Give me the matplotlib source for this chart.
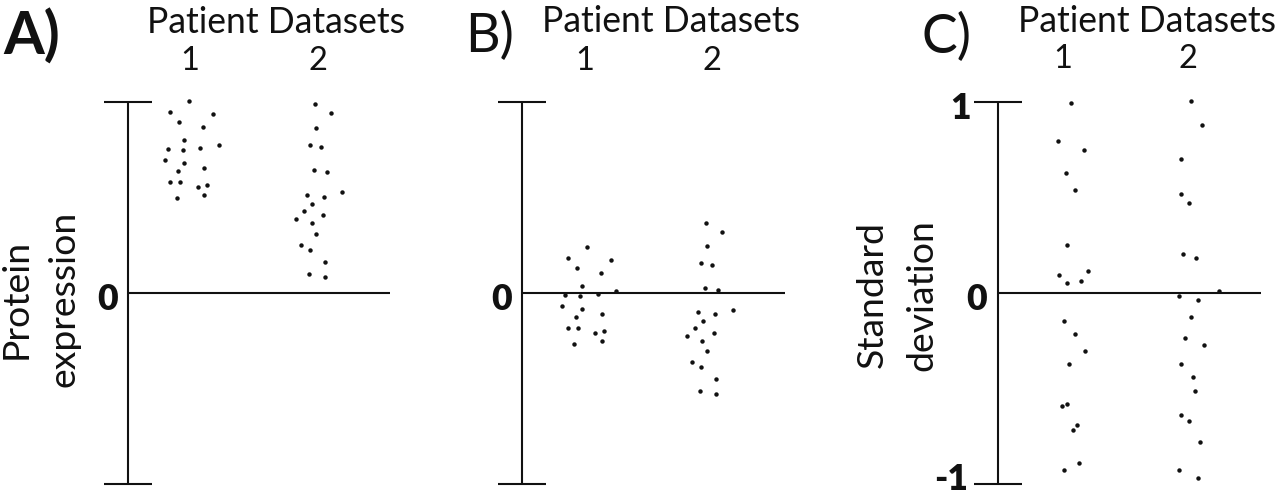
import matplotlib
matplotlib.use("Agg")
import matplotlib.pyplot as plt
from matplotlib.transforms import blended_transform_factory

# ---------------- data ----------------
categories = ["1", "2"]

# Panel A: protein expression
a1_x = [0.995, 0.846, 1.182, 0.916, 1.104, 0.955, 0.830, 0.948, 1.080, 1.224,
        0.807, 0.955, 0.909, 1.112, 0.846, 0.924, 1.060, 1.130, 0.898, 1.112]
a1_y = [1.008, 0.951, 0.940, 0.898, 0.872, 0.803, 0.757, 0.752, 0.762, 0.778,
        0.699, 0.684, 0.642, 0.658, 0.584, 0.584, 0.558, 0.569, 0.501, 0.515]
a2_x = [1.977, 2.104, 1.984, 1.938, 2.023, 1.969, 2.070, 2.188, 1.916, 2.045,
        1.955, 1.888, 1.826, 2.037, 1.951, 1.984, 1.870, 1.938, 2.052, 1.930, 2.052]
a2_y = [0.990, 0.942, 0.867, 0.778, 0.764, 0.644, 0.634, 0.530, 0.515, 0.506,
        0.469, 0.431, 0.391, 0.408, 0.366, 0.310, 0.254, 0.225, 0.165, 0.099, 0.085]

# Panel B: mean-centred expression
b1_x = [1.013, 0.864, 1.202, 0.935, 1.124, 0.974, 0.845, 0.963, 1.100, 1.244,
        0.821, 0.974, 0.927, 1.131, 0.864, 0.943, 1.076, 1.147, 0.916, 1.131]
b1_y = [0.244, 0.185, 0.176, 0.132, 0.108, 0.038, -0.010, -0.016, -0.002, 0.012,
        -0.066, -0.081, -0.123, -0.108, -0.182, -0.182, -0.208, -0.197, -0.265, -0.250]
b2_x = [1.953, 2.081, 1.961, 1.911, 2.000, 1.945, 2.050, 2.165, 1.892, 2.021,
        1.931, 1.864, 1.801, 2.013, 1.924, 1.961, 1.845, 1.913, 2.029, 1.906, 2.029]
b2_y = [0.368, 0.323, 0.248, 0.160, 0.147, 0.026, 0.017, -0.086, -0.099, -0.108,
        -0.147, -0.183, -0.224, -0.206, -0.248, -0.304, -0.358, -0.386, -0.447, -0.513, -0.526]

# Panel C: standard deviation
c1_x = [1.062, 0.960, 1.166, 1.022, 1.096, 1.032, 0.970, 1.198, 1.032, 1.144,
        1.010, 1.094, 1.176, 1.050, 0.990, 1.032, 1.112, 1.078, 1.126, 1.010]
c1_y = [0.996, 0.796, 0.751, 0.628, 0.539, 0.252, 0.096, 0.117, 0.051, 0.061,
        -0.149, -0.217, -0.306, -0.373, -0.595, -0.583, -0.694, -0.719, -0.894, -0.928]
c2_x = [2.024, 2.110, 1.942, 1.942, 2.008, 1.958, 2.062, 2.246, 1.926, 2.078,
        2.024, 1.976, 2.126, 1.942, 2.040, 2.058, 1.942, 2.008, 2.094, 1.926, 2.078]
c2_y = [1.006, 0.883, 0.705, 0.518, 0.472, 0.206, 0.184, 0.009, -0.017, -0.038,
        -0.128, -0.238, -0.271, -0.373, -0.439, -0.516, -0.639, -0.670, -0.782, -0.928, -0.971]

panel_letters = ["A)", "B)", "C)"]
y_titles = [("Protein", "expression"), None, ("Standard", "deviation")]

# ---------------- layout ----------------
W, H = 1280, 495
FONT = ["Lato", "DejaVu Sans"]
INK = "#111111"
LW = 1.5

fig = plt.figure(figsize=(W / 100, H / 100), dpi=100)
renderer = fig.canvas.get_renderer()


def fx(px):
    return px / W


def fy(py):
    return 1 - py / H


def fit(text, target, **kw):
    t = fig.text(0, 0, text, fontsize=100, family=FONT, **kw)
    w = t.get_window_extent(renderer).width
    t.remove()
    return 100 * target / w


S_title = fit("Patient Datasets", 258)
S_ylab = fit("Standard", 147)
S_A = fit("A)", 57, weight="bold")
S_BC = fit("B)", 49)
S_num = S_title * 0.92
S_tick = S_title * 1.0

panels = [
    dict(x1=190, x2=318, axis=127.7, end=390, zero=293.3, ys=191.0,
         letter_x=3, letter_base=55, bold=True, title_cx=276, title_base=33,
         num_base=70, series=[(a1_x, a1_y), (a2_x, a2_y)],
         ticks=[("0", -20, 310)], ylab_base=(27, 75), ylab_cy=298.5),
    dict(x1=585, x2=712, axis=521.7, end=785, zero=293.3, ys=191.0,
         letter_x=465, letter_base=52, bold=False, title_cx=671, title_base=32,
         num_base=70, series=[(b1_x, b1_y), (b2_x, b2_y)],
         ticks=[("0", -20, 310)], ylab_base=None, ylab_cy=None),
    dict(x1=1063, x2=1188, axis=997.7, end=1260.7, zero=293.0, ys=190.5,
         letter_x=922, letter_base=53, bold=False, title_cx=1147, title_base=32,
         num_base=68, series=[(c1_x, c1_y), (c2_x, c2_y)],
         ticks=[("1", -37, 119), ("0", -21, 310), ("-1", -47, 490)],
         ylab_base=(883, 932), ylab_cy=295),
]

for i, p in enumerate(panels):
    s = p["x2"] - p["x1"]
    off = p["x1"] - s
    ax = fig.add_axes([0, 0, 1, 1])
    ax.set_xlim((0 - off) / s, (W - off) / s)
    ax.set_ylim(-(H - p["zero"]) / p["ys"], p["zero"] / p["ys"])
    ax.axis("off")
    ax.patch.set_alpha(0)

    def dx(px):
        return (px - off) / s

    ax_x = dx(p["axis"])
    cap = 24 / s
    ax.vlines(ax_x, -1, 1, color=INK, lw=LW)
    ax.hlines([1, -1], ax_x - cap, ax_x + cap, color=INK, lw=LW)
    ax.hlines(0, ax_x, dx(p["end"]), color=INK, lw=LW)

    for xs, ys in p["series"]:
        ax.plot(xs, ys, "o", color=INK, ms=3.2, mew=0, zorder=3)

    tr = blended_transform_factory(ax.transData, fig.transFigure)
    for k, cat in enumerate(categories):
        ax.text(k + 1, fy(p["num_base"]), cat, transform=tr, ha="center",
                va="baseline", fontsize=S_num, family=FONT, color=INK)

    fig.text(fx(p["title_cx"]), fy(p["title_base"]), "Patient Datasets",
             ha="center", va="baseline", fontsize=S_title, family=FONT, color=INK)

    fig.text(fx(p["letter_x"]), fy(p["letter_base"]), panel_letters[i],
             ha="left", va="baseline", family=FONT, color=INK,
             fontsize=S_A if p["bold"] else S_BC,
             weight="bold" if p["bold"] else "normal")

    for lab, dxp, base in p["ticks"]:
        fig.text(fx(p["axis"] + dxp), fy(base), lab, ha="center", va="baseline",
                 fontsize=S_tick, family=FONT, weight="heavy", color=INK)

    if y_titles[i] is not None:
        for line, base in zip(y_titles[i], p["ylab_base"]):
            fig.text(fx(base), fy(p["ylab_cy"]), line, rotation=90,
                     rotation_mode="anchor", ha="center", va="baseline",
                     fontsize=S_ylab, family=FONT, color=INK)

fig.savefig("out.png", dpi=100, facecolor="white")
